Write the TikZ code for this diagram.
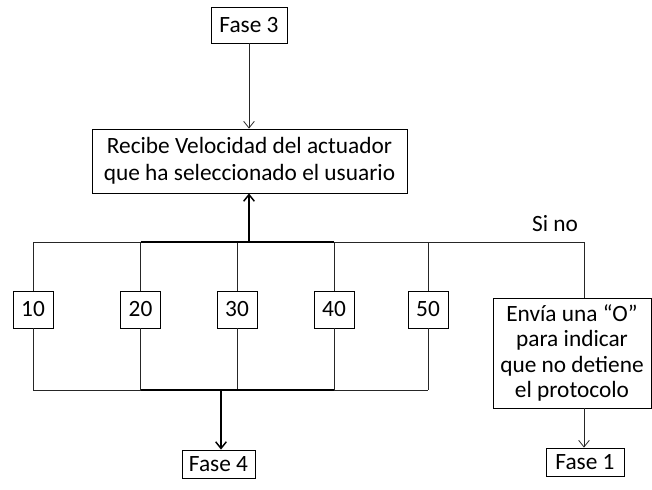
\documentclass[tikz,border=0pt]{standalone}
\usepackage{fontspec}
\setmainfont{Carlito}
\usetikzlibrary{arrows.meta}
\begin{document}
\begin{tikzpicture}[x=0.75pt,y=-0.75pt,
  box/.style={draw=black,line width=0.6pt,fill=white,inner sep=0pt,align=center,
    font=\fontsize{17.5}{20}\selectfont},
  ln/.style={draw=black!85,line width=0.6pt},
  thk/.style={draw=black,line width=1.1pt},
  arr/.style={ln,-{Straight Barb[length=5pt,width=8pt]}},
  thkarr/.style={thk,-{Straight Barb[length=5pt,width=8pt]}},
  lbl/.style={font=\fontsize{17.5}{20}\selectfont,inner sep=0pt}]
\useasboundingbox (0,0) rectangle (652,489);
\node[box,minimum width=76*0.75pt,minimum height=36*0.75pt] (f3) at (249,25) {Fase 3};
\node[box,minimum width=315*0.75pt,minimum height=64*0.75pt] (rec) at (249.5,161)
  {Recibe Velocidad del actuador\\que ha seleccionado el usuario};
\node[box,minimum width=40*0.75pt,minimum height=37*0.75pt] (b1) at (33,309.5) {10};
\node[box,minimum width=40*0.75pt,minimum height=37*0.75pt] (b2) at (140.5,309.5) {20};
\node[box,minimum width=40*0.75pt,minimum height=37*0.75pt] (b3) at (237,309.5) {30};
\node[box,minimum width=40*0.75pt,minimum height=37*0.75pt] (b4) at (334,309.5) {40};
\node[box,minimum width=40*0.75pt,minimum height=37*0.75pt] (b5) at (428,309.5) {50};
\node[box,minimum width=158*0.75pt,minimum height=110*0.75pt,
  font=\fontsize{17.5}{19}\selectfont] (env) at (572,353)
  {Envía una “O”\\para indicar\\que no detiene\\el protocolo};
\node[box,minimum width=73*0.75pt,minimum height=28*0.75pt] (f4) at (218.5,464) {Fase 4};
\node[box,minimum width=78*0.75pt,minimum height=28*0.75pt] (f1) at (585,462) {Fase 1};
\node[lbl] (sino) at (555,224) {Si no};
\coordinate (busL) at (33,242);
\coordinate (busR) at (584,242);
\coordinate (botL) at (33,390);
\coordinate (botR) at (428,390);
\coordinate (jt) at (249,242);
\coordinate (jb) at (221,390);
% connectors
\draw[arr] (f3) -- (f3 |- rec.north);
\draw[ln] (busL) -- (busR) -- (busR |- env.north);
\draw[ln] (botL) -- (botR);
\foreach \b in {b1,b2,b3,b4,b5}{
  \draw[ln] (\b.north) -- (\b |- busL);
  \draw[ln] (\b.south) -- (\b |- botL);
}
\draw[thk] (b2 |- busL) -- (b4 |- busL);
\draw[thk] (b2 |- botL) -- (b4 |- botL);
\draw[thkarr] (jt) -- (jt |- rec.south);
\draw[thkarr] (jb) -- (jb |- f4.north);
\draw[arr] (busR |- env.south) -- (busR |- f1.north);
\end{tikzpicture}
\end{document}
